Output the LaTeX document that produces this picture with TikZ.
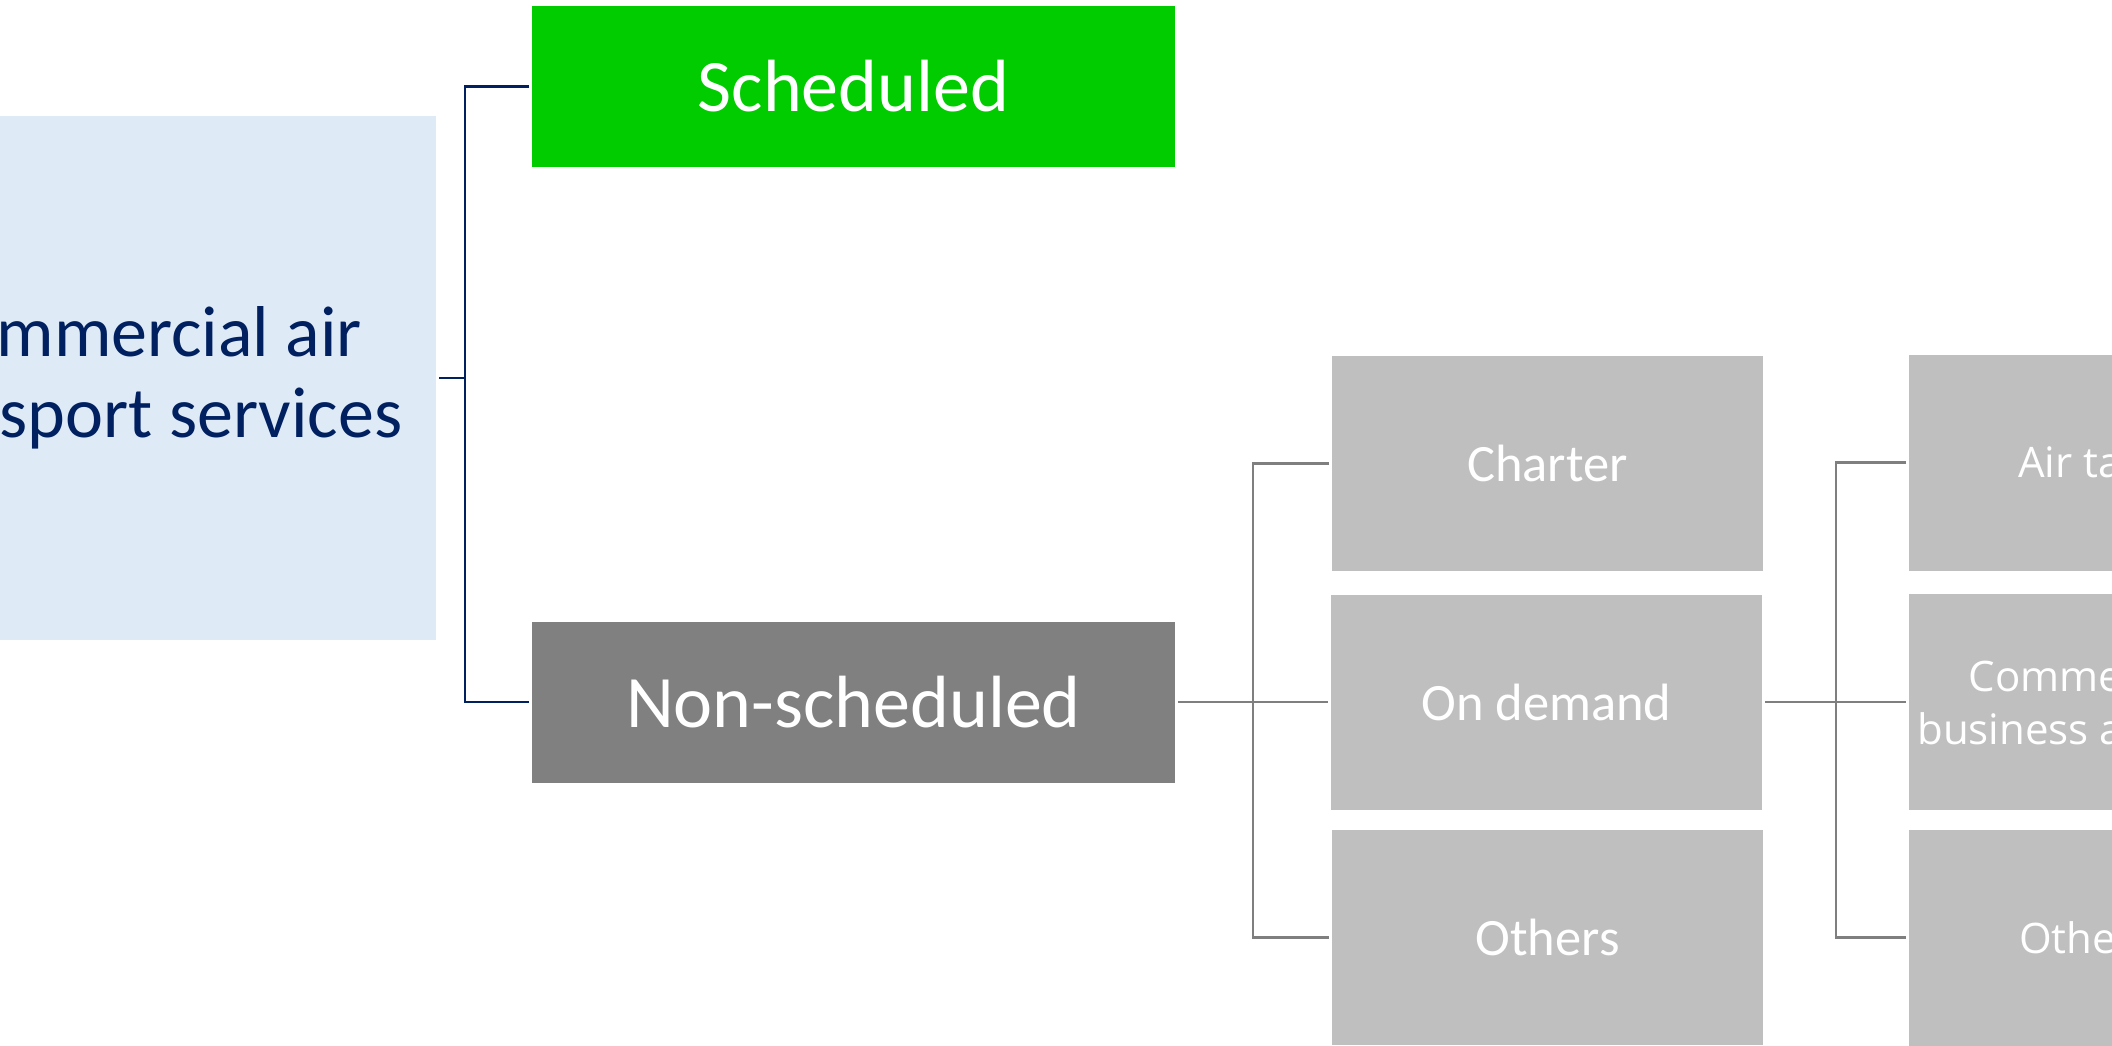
\documentclass[tikz,border=0pt]{standalone}
\usepackage{fontspec}
\setmainfont{Carlito}
\newfontfamily\osans{Open Sans}
\definecolor{navy}{HTML}{002060}
\definecolor{lineGray}{HTML}{7F7F7F}
\definecolor{lightBlue}{HTML}{DEEBF7}
\definecolor{brightGreen}{HTML}{00CC00}
\definecolor{darkGray}{HTML}{808080}
\definecolor{boxGray}{HTML}{BFBFBF}
\tikzset{
  box/.style={rectangle, draw=none, inner sep=0pt, outer sep=1.5pt, align=center},
  topbox/.style={box, minimum width=321.5pt, minimum height=80.5pt, text=white,
    font=\fontsize{37pt}{40pt}\selectfont},
  midbox/.style={box, fill=boxGray, minimum width=215.5pt, minimum height=107.5pt, text=white,
    font=\fontsize{26.25pt}{30pt}\selectfont},
  rightbox/.style={box, fill=boxGray, minimum width=177pt, minimum height=108pt, text=white,
    font=\osans\fontsize{21pt}{26.5pt}\selectfont},
  navyline/.style={draw=navy, line width=1.4pt},
  grayline/.style={draw=lineGray, line width=1.4pt}
}
\begin{document}
\begin{tikzpicture}[x=0.5pt, y=-0.5pt]
\useasboundingbox (0,0) rectangle (2112,1045);
\clip (0,0) rectangle (2112,1045);
\fill[white] (0,0) rectangle (2112,1045);

\node[box, fill=lightBlue, minimum width=295pt, minimum height=262pt, text=navy,
  font=\fontsize{36pt}{40.5pt}\selectfont] (root) at (141,378) {Commercial air\\transport services};

\node[topbox, fill=brightGreen] (sched) at (853.5,86.5) {Scheduled};
\node[topbox, fill=darkGray] (nonsched) at (853.5,702) {Non-scheduled};

\node[midbox] (charter) at (1547.5,463.5) {Charter};
\node[midbox] (ondemand) at (1546.5,702) {On demand};
\node[midbox] (others) at (1547.5,937.5) {Others};

\node[rightbox] (airtaxi) at (2086,462.5) {Air taxi};
\node[rightbox] (cba) at (2086,702) {Commercial\\business aviation};
\node[rightbox] (others2) at (2086,937.5) {Others};

\coordinate (j1) at (465,378);
\coordinate (j2) at (1253,702);
\coordinate (j3) at (1836,702);

\draw[navyline] (root.east) -- (j1);
\draw[navyline] (sched.west) -| (j1) |- (nonsched.west);

\draw[grayline] (nonsched.east) -- (j2);
\draw[grayline] (charter.west) -| (j2) |- (others.west);
\draw[grayline] (j2) -- (ondemand.west);

\draw[grayline] (ondemand.east) -- (j3);
\draw[grayline] (airtaxi.west) -| (j3) |- (others2.west);
\draw[grayline] (j3) -- (cba.west);
\end{tikzpicture}
\end{document}
